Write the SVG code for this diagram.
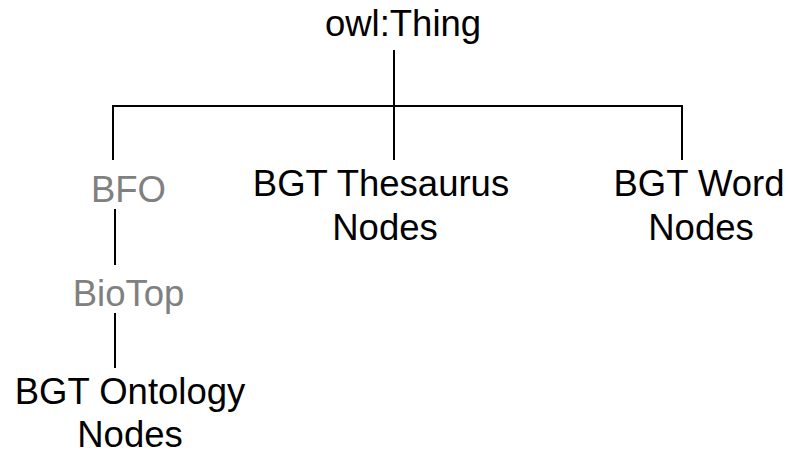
<svg xmlns="http://www.w3.org/2000/svg" width="790" height="456" viewBox="0 0 790 456">
  <style>
    text { font-family: "Liberation Sans", Arial, sans-serif; font-size: 36.5px; text-anchor: middle; fill: #000; }
    .ext { fill: #808080; }
    .edge { stroke: #000; stroke-width: 2; fill: none; }
  </style>
  <rect width="790" height="456" fill="#fff"/>
  <g id="connectors">
    <path class="edge" d="M394 50 V106"/>
    <path class="edge" d="M113 160 V106 H682 V160"/>
    <path class="edge" d="M394 106 V160"/>
    <path class="edge" d="M115 209 V265"/>
    <path class="edge" d="M115 313 V368"/>
  </g>
  <g id="owl-thing"><text x="403" y="36">owl:Thing</text></g>
  <g id="bfo"><text class="ext" x="128.5" y="202">BFO</text></g>
  <g id="biotop"><text class="ext" x="128.5" y="306">BioTop</text></g>
  <g id="bgt-ontology"><text x="130" y="404">BGT Ontology</text><text x="130" y="447">Nodes</text></g>
  <g id="bgt-thesaurus"><text x="381" y="196">BGT Thesaurus</text><text x="385" y="240">Nodes</text></g>
  <g id="bgt-word"><text x="699" y="196">BGT Word</text><text x="701" y="240">Nodes</text></g>
</svg>
